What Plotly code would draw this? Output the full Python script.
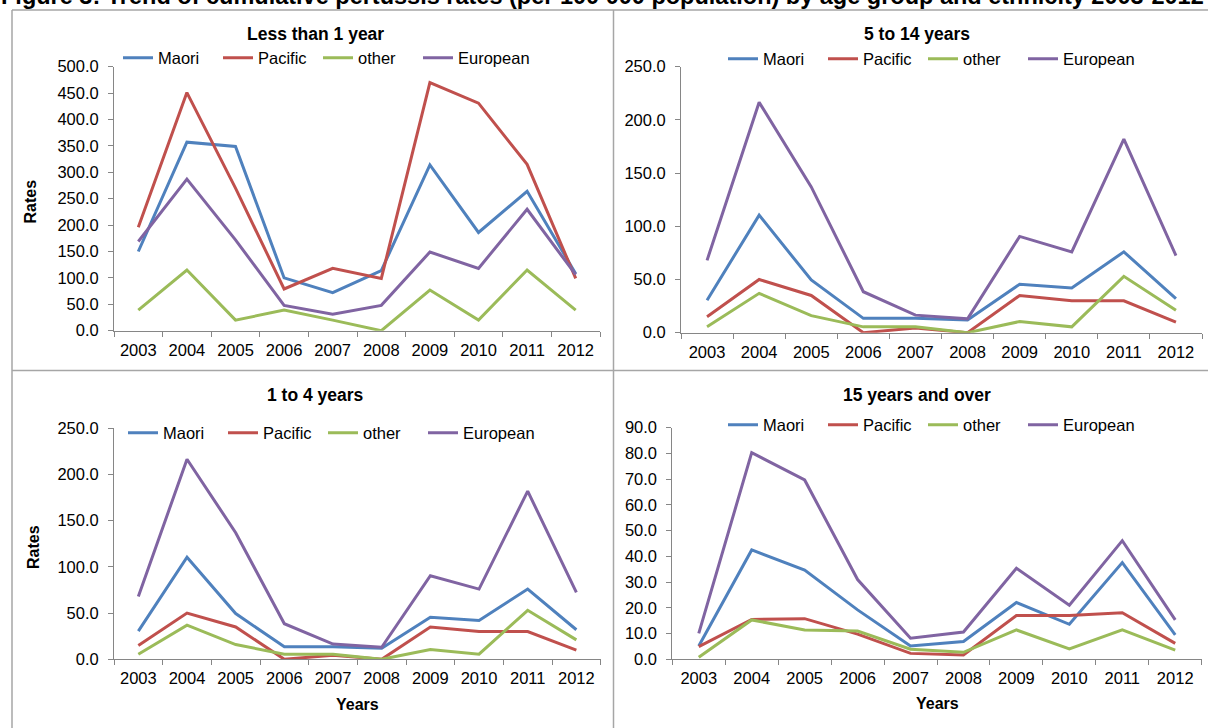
import plotly.graph_objects as go

W, H = 1208, 728

years = ["2003", "2004", "2005", "2006", "2007", "2008", "2009", "2010", "2011", "2012"]
ethnic_groups = ["Maori", "Pacific", "other", "European"]
group_colors = ["#4F81BD", "#C0504D", "#9BBB59", "#8064A2"]

# Less than 1 year
maori_lt1 = [150.0, 357.0, 349.0, 100.0, 72.0, 114.0, 314.0, 186.0, 264.0, 108.0]
pacific_lt1 = [196.0, 451.0, 270.0, 79.0, 118.0, 99.0, 470.0, 431.0, 315.0, 99.0]
other_lt1 = [39.0, 115.0, 20.0, 39.0, 20.0, 0.0, 77.0, 20.0, 115.0, 39.0]
european_lt1 = [169.0, 287.0, 172.0, 48.0, 31.0, 48.0, 149.0, 118.0, 230.0, 106.0]

# 5 to 14 years
maori_5to14 = [30.5, 110.5, 49.5, 13.5, 13.5, 12.0, 45.5, 42.0, 76.0, 32.0]
pacific_5to14 = [15.0, 50.0, 35.0, 0.0, 4.5, 0.0, 35.0, 30.0, 30.0, 10.0]
other_5to14 = [5.5, 37.0, 16.0, 5.5, 5.5, 0.0, 10.5, 5.5, 53.0, 21.0]
european_5to14 = [68.0, 216.5, 137.0, 38.5, 16.5, 13.0, 90.5, 76.0, 182.0, 72.5]

# 1 to 4 years
maori_1to4 = [30.5, 110.5, 49.5, 13.5, 13.5, 12.0, 45.5, 42.0, 76.0, 32.0]
pacific_1to4 = [15.0, 50.0, 35.0, 0.0, 4.5, 0.0, 35.0, 30.0, 30.0, 10.0]
other_1to4 = [5.5, 37.0, 16.0, 5.5, 5.5, 0.0, 10.5, 5.5, 53.0, 21.0]
european_1to4 = [68.0, 216.5, 137.0, 38.5, 16.5, 13.0, 90.5, 76.0, 182.0, 72.5]

# 15 years and over
maori_15plus = [5.2, 42.5, 34.7, 19.2, 5.2, 6.9, 22.1, 13.6, 37.6, 9.5]
pacific_15plus = [4.9, 15.5, 15.8, 9.8, 2.3, 1.7, 17.0, 17.0, 18.1, 6.2]
other_15plus = [0.8, 15.3, 11.4, 11.0, 3.9, 2.7, 11.4, 4.0, 11.4, 3.6]
european_15plus = [10.1, 80.3, 69.7, 31.0, 8.2, 10.6, 35.4, 21.0, 46.1, 15.3]

figure_title = ("Figure 3: Trend of cumulative pertussis rates (per 100 000 population) "
                "by age group and ethnicity 2003-2012")

FONT = "Liberation Sans, Arial, sans-serif"
AXIS_GREY = "#868686"
BOX_GREY = "#A6A6A6"


def px_x(p):
    return p / W


def px_y(p):
    return 1 - p / H


# each panel: title, series, y max, y step, plot box in pixels (left, right, top, bottom),
# title position, legend position, y-title position, x-title position
panels = [
    dict(title="Less than 1 year",
         series=[maori_lt1, pacific_lt1, other_lt1, european_lt1],
         ymax=500, dtick=50, box=(114, 600, 66.7, 330.7),
         title_xy=(315.5, 34), legend_xy=(118, 58),
         ytitle_xy=(30, 201.5), xtitle_xy=None),
    dict(title="5 to 14 years",
         series=[maori_5to14, pacific_5to14, other_5to14, european_5to14],
         ymax=250, dtick=50, box=(681, 1202, 66.7, 332.7),
         title_xy=(917, 34), legend_xy=(723, 59),
         ytitle_xy=None, xtitle_xy=None),
    dict(title="1 to 4 years",
         series=[maori_1to4, pacific_1to4, other_1to4, european_1to4],
         ymax=250, dtick=50, box=(114, 600.7, 428.3, 659.3),
         title_xy=(315.5, 395), legend_xy=(123, 433),
         ytitle_xy=(33, 547), xtitle_xy=(357.5, 704)),
    dict(title="15 years and over",
         series=[maori_15plus, pacific_15plus, other_15plus, european_15plus],
         ymax=90, dtick=10, box=(672.3, 1201.7, 427.7, 659.3),
         title_xy=(917.5, 395), legend_xy=(723, 425),
         ytitle_xy=None, xtitle_xy=(937, 703)),
]

fig = go.Figure()
layout = dict(
    width=W, height=H, autosize=False,
    margin=dict(l=0, r=0, t=0, b=0, pad=0, autoexpand=False),
    paper_bgcolor="white", plot_bgcolor="white",
    font=dict(family=FONT, color="#000000", size=16.5),
    showlegend=True,
)
annotations = []

for i, pnl in enumerate(panels):
    n = i + 1
    suffix = "" if n == 1 else str(n)
    left, right, top, bottom = pnl["box"]
    legend_name = "legend" + suffix

    for name, color, values in zip(ethnic_groups, group_colors, pnl["series"]):
        fig.add_trace(go.Scatter(
            x=years, y=values, name=name, mode="lines",
            line=dict(color=color, width=3),
            xaxis="x" + suffix, yaxis="y" + suffix,
            legend=legend_name, hoverinfo="x+y+name",
            legendwidth=90 if name == "European" else None,
        ))

    layout["xaxis" + suffix] = dict(
        domain=[px_x(left), px_x(right)], anchor="y" + suffix,
        type="category", range=[-0.5, 9.5], automargin=False,
        showline=True, linecolor=AXIS_GREY, linewidth=1,
        ticks="outside", ticklen=5, tickcolor=AXIS_GREY, tickwidth=1,
        tickson="boundaries", showgrid=False, zeroline=False,
        tickfont=dict(size=16.5, family=FONT, color="#000000"),
        ticklabelstandoff=4,
    )
    layout["yaxis" + suffix] = dict(
        domain=[px_y(bottom), px_y(top)], anchor="x" + suffix,
        range=[0, pnl["ymax"]], dtick=pnl["dtick"], tick0=0,
        tickformat=".1f", automargin=False,
        showline=True, linecolor=AXIS_GREY, linewidth=1,
        ticks="outside", ticklen=5, tickcolor=AXIS_GREY, tickwidth=1,
        showgrid=False, zeroline=False,
        tickfont=dict(size=16.5, family=FONT, color="#000000"),
        ticklabelstandoff=6,
    )
    lx, ly = pnl["legend_xy"]
    layout[legend_name] = dict(
        orientation="h", x=px_x(lx), y=px_y(ly),
        xanchor="left", yanchor="middle",
        xref="paper", yref="paper",
        bgcolor="rgba(0,0,0,0)", borderwidth=0,
        font=dict(size=16.5, family=FONT, color="#000000"),
        entrywidth=55, entrywidthmode="pixels",
        itemclick=False, itemdoubleclick=False,
        tracegroupgap=0,
    )

    tx, ty = pnl["title_xy"]
    annotations.append(dict(
        text="<b>%s</b>" % pnl["title"], x=px_x(tx), y=px_y(ty),
        xref="paper", yref="paper", xanchor="center", yanchor="middle",
        showarrow=False, font=dict(size=17.5, family=FONT, color="#000000"),
    ))
    if pnl["ytitle_xy"]:
        ax_, ay_ = pnl["ytitle_xy"]
        annotations.append(dict(
            text="<b>Rates</b>", x=px_x(ax_), y=px_y(ay_),
            xref="paper", yref="paper", xanchor="center", yanchor="middle",
            textangle=-90, showarrow=False,
            font=dict(size=16, family=FONT, color="#000000"),
        ))
    if pnl["xtitle_xy"]:
        ax_, ay_ = pnl["xtitle_xy"]
        annotations.append(dict(
            text="<b>Years</b>", x=px_x(ax_), y=px_y(ay_),
            xref="paper", yref="paper", xanchor="center", yanchor="middle",
            showarrow=False, font=dict(size=16, family=FONT, color="#000000"),
        ))

# figure caption, its upper half running off the top edge of the page
annotations.append(dict(
    text="<b>%s</b>" % figure_title, x=px_x(-1), y=px_y(11),
    xref="paper", yref="paper", xanchor="left", yanchor="bottom",
    showarrow=False, font=dict(size=23.5, family=FONT, color="#000000"),
))

layout["annotations"] = annotations

# panel frames
frame = dict(type="line", xref="paper", yref="paper",
             line=dict(color=BOX_GREY, width=1.5), layer="below")
layout["shapes"] = [
    dict(frame, x0=px_x(12), x1=px_x(12), y0=px_y(10), y1=px_y(740)),
    dict(frame, x0=px_x(613.5), x1=px_x(613.5), y0=px_y(10), y1=px_y(740)),
    dict(frame, x0=px_x(12), x1=px_x(1220), y0=px_y(10), y1=px_y(10)),
    dict(frame, x0=px_x(12), x1=px_x(1220), y0=px_y(370.5), y1=px_y(370.5)),
]

fig.update_layout(**layout)
fig.write_html("out.html")
